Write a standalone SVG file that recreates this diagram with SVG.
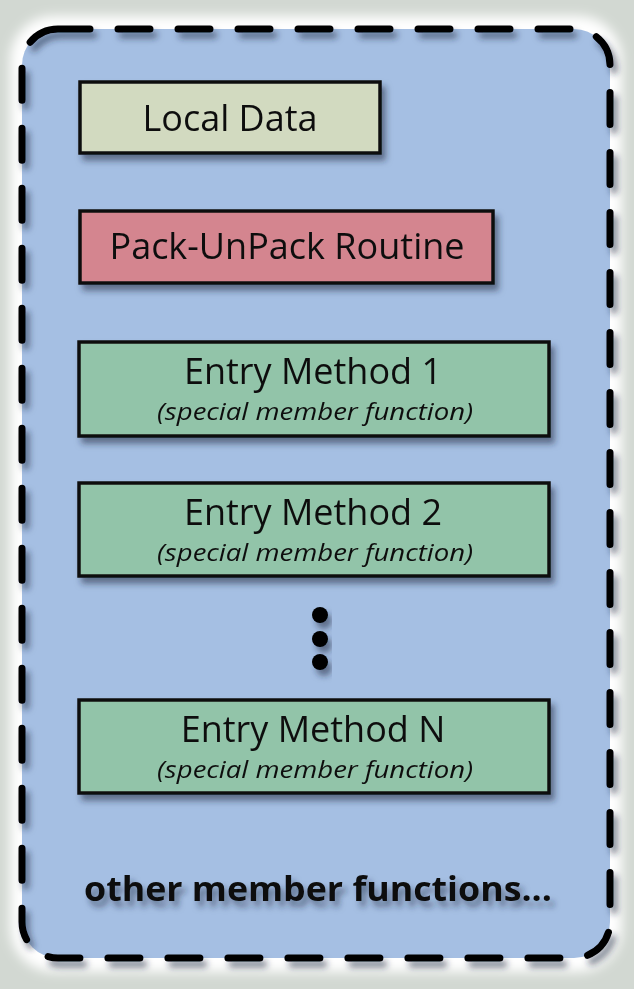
<svg xmlns="http://www.w3.org/2000/svg" width="634" height="989" viewBox="0 0 634 989">
<defs>
<filter id="sh" x="-10%" y="-10%" width="130%" height="140%"><feDropShadow dx="4" dy="6" stdDeviation="3" flood-color="#1a2a40" flood-opacity="0.55"/></filter>
<filter id="glow" x="-10%" y="-10%" width="120%" height="120%"><feGaussianBlur stdDeviation="6"/></filter>
<style>
.box{stroke:#111;stroke-width:3.5}
.t{font-family:"Open Sans","Liberation Sans",sans-serif;fill:#111;text-anchor:middle}
.title{font-size:36px}
.sub{font-size:23px;font-style:italic}
</style>
</defs>
<rect width="634" height="989" fill="#d2d8d2"/>
<rect x="10" y="16" width="612" height="956" rx="44" fill="#ffffff" filter="url(#glow)"/>
<rect x="22" y="29" width="588" height="929" rx="36" fill="#a5bfe3"/>
<rect x="22" y="29" width="588" height="929" rx="36" fill="none" stroke="#000" stroke-width="7" stroke-linecap="round" stroke-dasharray="32 28" filter="url(#sh)"/>
<g id="local-data" filter="url(#sh)">
<rect class="box" x="80" y="82" width="300" height="71" fill="#d2dac0"/>
<text class="t title" x="230" y="131">Local Data</text>
</g>
<g id="pack-unpack" filter="url(#sh)">
<rect class="box" x="80" y="211" width="413" height="72" fill="#d4858f"/>
<text class="t title" x="287" y="259">Pack-UnPack Routine</text>
</g>
<g id="entry1" filter="url(#sh)">
<rect class="box" x="79" y="342" width="470" height="94" fill="#92c4a9"/>
<text class="t title" x="313" y="384">Entry Method 1</text>
<text class="t sub" x="315" y="420" textLength="316" lengthAdjust="spacingAndGlyphs">(special member function)</text>
</g>
<g id="entry2" filter="url(#sh)">
<rect class="box" x="79" y="483" width="470" height="93" fill="#92c4a9"/>
<text class="t title" x="313" y="525">Entry Method 2</text>
<text class="t sub" x="315" y="561" textLength="316" lengthAdjust="spacingAndGlyphs">(special member function)</text>
</g>
<g id="dots" filter="url(#sh)">
<circle cx="320" cy="615" r="8" fill="#000"/>
<circle cx="320" cy="639" r="8" fill="#000"/>
<circle cx="320" cy="662" r="8" fill="#000"/>
</g>
<g id="entryN" filter="url(#sh)">
<rect class="box" x="79" y="700" width="470" height="93" fill="#92c4a9"/>
<text class="t title" x="313" y="742">Entry Method N</text>
<text class="t sub" x="315" y="778" textLength="316" lengthAdjust="spacingAndGlyphs">(special member function)</text>
</g>
<g id="other" filter="url(#sh)">
<text class="t" x="318" y="901" font-size="34" font-weight="bold" textLength="468" lengthAdjust="spacingAndGlyphs">other member functions...</text>
</g>
<g id="connectors"/>
</svg>
